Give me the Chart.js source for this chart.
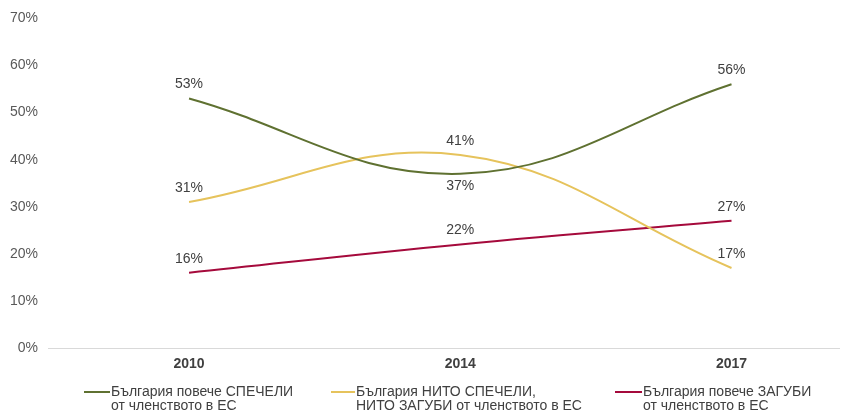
<!DOCTYPE html>
<html>
<head>
<meta charset="utf-8">
<script src="https://cdn.jsdelivr.net/npm/chart.js@4/dist/chart.umd.min.js"></script>
<style>
  body { margin: 0; background: #fff; }
  #wrap { position: relative; width: 841px; height: 412px; }
  .leg { position: absolute; top: 384px; font: 14px "Liberation Sans", Arial, sans-serif; color: #404040; line-height: 14px; }
  .leg .sw { position: absolute; top: 7px; height: 2px; }
</style>
</head>
<body>
<div id="wrap">
  <canvas id="chart" width="841" height="412"></canvas>
  <div id="legend"></div>
</div>
<script>
// Data
const years = ['2010', '2014', '2017'];
const gained = [53, 37, 56];
const neither = [31, 41, 17];
const lost = [16, 22, 27];
const seriesNames = [
    ['България повече СПЕЧЕЛИ', 'от членството в ЕС'],
    ['България НИТО СПЕЧЕЛИ,', 'НИТО ЗАГУБИ от членството в ЕС'],
    ['България повече ЗАГУБИ', 'от членството в ЕС']
];
// label under the point only for the 2014 "gained" value
const labelBelow = [[false, true, false], [false, false, false], [false, false, false]];

const colors = ['#5f7131', '#e6c35c', '#a50a3c'];
const font = '"Liberation Sans", Arial, sans-serif';

function toPoints(values) {
    return values.map((v, i) => ({ x: i, y: v }));
}

// simple value labels drawn next to each point
const pointLabels = {
    id: 'pointLabels',
    afterDatasetsDraw(chart) {
        const ctx = chart.ctx;
        ctx.save();
        ctx.font = '14px ' + font;
        ctx.fillStyle = '#404040';
        ctx.textAlign = 'center';
        ctx.textBaseline = 'middle';
        chart.data.datasets.forEach((ds, di) => {
            chart.getDatasetMeta(di).data.forEach((pt, i) => {
                const dy = labelBelow[di][i] ? 12 : -14;
                ctx.fillText(ds.data[i].y + '%', pt.x, pt.y + dy);
            });
        });
        ctx.restore();
    }
};

new Chart(document.getElementById('chart'), {
    type: 'line',
    data: {
        datasets: [
            { data: toPoints(gained), borderColor: colors[0] },
            { data: toPoints(neither), borderColor: colors[1] },
            { data: toPoints(lost), borderColor: colors[2] }
        ]
    },
    options: {
        responsive: false,
        animation: false,
        layout: { padding: { top: 17, right: 1, left: 0, bottom: 0 } },
        elements: {
            line: { borderWidth: 2, tension: 0.4, fill: false },
            point: { radius: 0 }
        },
        plugins: {
            legend: { display: false },
            tooltip: { enabled: false }
        },
        scales: {
            x: {
                type: 'linear',
                min: -0.52,
                max: 2.4,
                border: { display: false },
                grid: { display: false, drawTicks: false },
                afterBuildTicks: scale => {
                    scale.ticks = years.map((y, i) => ({ value: i }));
                },
                afterFit: scale => { scale.height = 64; },
                ticks: {
                    padding: 8,
                    color: '#404040',
                    font: { family: font, size: 14, weight: 'bold' },
                    callback: value => years[value]
                }
            },
            y: {
                min: 0,
                max: 70,
                border: { display: false },
                grid: {
                    drawTicks: false,
                    color: ctx => ctx.tick && ctx.tick.value === 0 ? '#d9d9d9' : 'rgba(0,0,0,0)'
                },
                afterFit: scale => { scale.width = 48; },
                ticks: {
                    stepSize: 10,
                    padding: 10,
                    color: '#595959',
                    font: { family: font, size: 14 },
                    callback: value => value + '%'
                }
            }
        }
    },
    plugins: [pointLabels]
});

// Legend
const legendPos = [
    { line: 84, width: 26 },
    { line: 331, width: 24 },
    { line: 615, width: 27 }
];
const legend = document.getElementById('legend');
seriesNames.forEach((name, i) => {
    const item = document.createElement('div');
    item.className = 'leg';
    item.style.left = legendPos[i].line + 'px';
    item.style.paddingLeft = (legendPos[i].width + 1) + 'px';
    item.innerHTML = '<span class="sw" style="left:0;width:' + legendPos[i].width + 'px;background:' + colors[i] + '"></span>' + name.join('<br>');
    legend.appendChild(item);
});
</script>
</body>
</html>
